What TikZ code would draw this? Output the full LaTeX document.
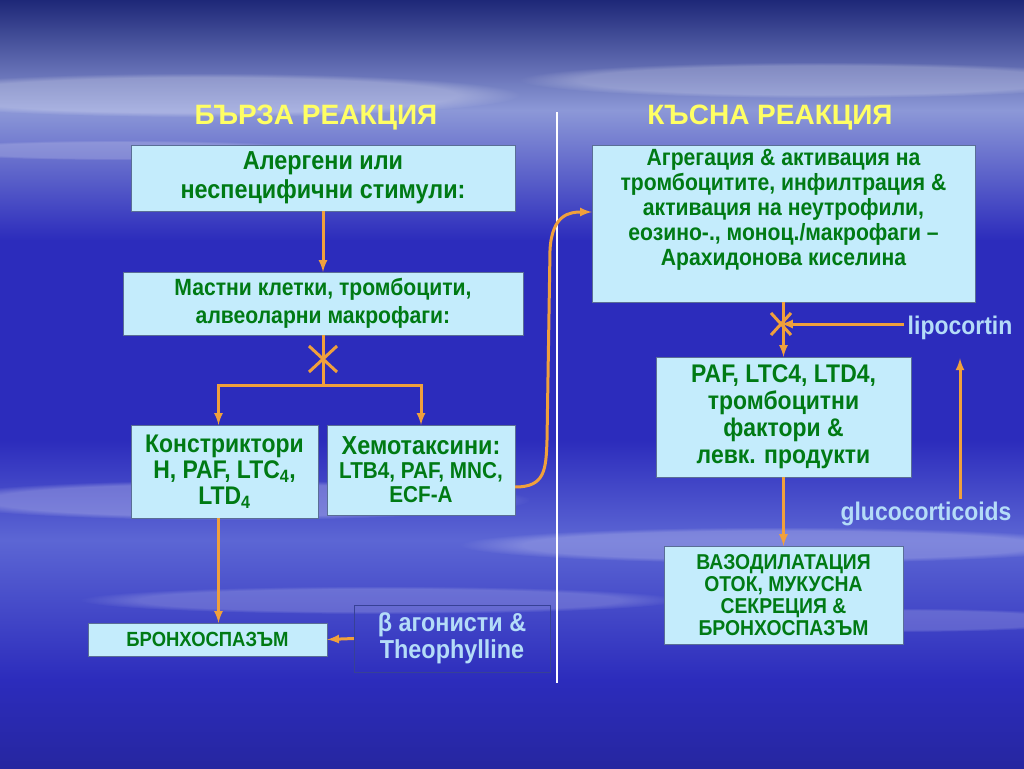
\documentclass[tikz,border=0pt]{standalone}
\usepackage{fontspec}
\setmainfont{Liberation Sans}[FakeStretch=0.9]
\newfontfamily\titlefont{Liberation Sans}
\usetikzlibrary{calc,fadings}

\definecolor{boxfill}{RGB}{196,236,252}
\definecolor{boxline}{RGB}{90,110,150}
\definecolor{txtgreen}{RGB}{0,122,20}
\definecolor{arrorange}{RGB}{240,160,60}
\definecolor{titleyellow}{RGB}{255,255,100}
\definecolor{txtlight}{RGB}{180,220,248}
\definecolor{drugline}{RGB}{55,65,150}
\definecolor{bgA}{RGB}{30,40,120}
\definecolor{bgB}{RGB}{140,152,215}
\definecolor{bgC}{RGB}{44,44,188}
\definecolor{bgD}{RGB}{92,102,212}
\definecolor{bgE}{RGB}{38,38,160}

\tikzstyle{block} = [draw=boxline,fill=boxfill,text=txtgreen,align=center,
                     font=\bfseries,inner sep=2pt]
\tikzstyle{title} = [text=titleyellow,font=\titlefont\bfseries\fontsize{28}{30}\selectfont]
\tikzstyle{drug}  = [text=txtlight,font=\bfseries\fontsize{25.5}{27}\selectfont]
\tikzstyle{arr}   = [draw=arrorange,line width=3pt,-latex]
\tikzstyle{line}  = [draw=arrorange,line width=3pt]
\tikzstyle{cloud} = [fill=white,path fading=circle with fuzzy edge 20 percent]

\begin{document}
\begin{tikzpicture}[x=1pt,y=-1pt]
  \useasboundingbox (0,0) rectangle (1024,768);
  % background
  \shade[top color=bgA,bottom color=bgB] (0,0) rectangle (1024,110);
  \shade[top color=bgB,bottom color=bgC] (0,110) rectangle (1024,240);
  \fill[bgC] (0,240) rectangle (1024,440);
  \shade[top color=bgC,bottom color=bgD] (0,440) rectangle (1024,540);
  \shade[top color=bgD,bottom color=bgC] (0,540) rectangle (1024,680);
  \shade[top color=bgC,bottom color=bgE] (0,680) rectangle (1024,768);
  \fill[cloud,opacity=0.25] (200,95) ellipse (320 and 22);
  \fill[cloud,opacity=0.22] (820,80) ellipse (300 and 18);
  \fill[cloud,opacity=0.18] (120,150) ellipse (200 and 10);
  \fill[cloud,opacity=0.25] (230,500) ellipse (300 and 20);
  \fill[cloud,opacity=0.22] (780,545) ellipse (320 and 18);
  \fill[cloud,opacity=0.18] (380,600) ellipse (300 and 14);
  \fill[cloud,opacity=0.18] (900,620) ellipse (200 and 12);

  \node[title] at (316,118) (fasttitle) {БЪРЗА РЕАКЦИЯ};
  \node[title] at (770,118) (latetitle) {КЪСНА РЕАКЦИЯ};
  \draw[white,line width=2.5pt] (557,112) -- (557,683);

  % left side
  \node[block,minimum width=384pt,minimum height=66pt,font=\bfseries\fontsize{26}{29}\selectfont]
    at (323,178) (allerg) {Алергени или\\неспецифични стимули:};
  \node[block,minimum width=400pt,minimum height=63pt,font=\bfseries\fontsize{23.5}{28}\selectfont]
    at (323,303.5) (mast) {Мастни клетки, тромбоцити,\\алвеоларни макрофаги:};
  \node[block,minimum width=187pt,minimum height=93pt,font=\bfseries\fontsize{25.5}{26}\selectfont]
    at (224.5,471.5) (constr) {Констриктори\\H, PAF, LTC\textsubscript{4},\\LTD\textsubscript{4}};
  \node[block,minimum width=188pt,minimum height=90pt,font=\bfseries\fontsize{23}{24}\selectfont]
    at (421,470) (chemo) {{\fontsize{26}{26}\selectfont Хемотаксини:}\\LTB4, PAF, MNC,\\ECF-A};
  \node[block,minimum width=239pt,minimum height=33pt,font=\bfseries\fontsize{20.5}{22}\selectfont]
    at (207.5,639.5) (bronch) {БРОНХОСПАЗЪМ};
  \node[drug,draw=drugline,minimum width=196pt,minimum height=67pt,align=center,
    font=\bfseries\fontsize{26}{27}\selectfont] at (452,638.5) (agon) {β агонисти \&\\Theophylline};

  \coordinate (blockL) at (323,359);
  \coordinate (split) at (323,385);
  \draw[arr] (allerg.south) -- (mast.north);
  \draw[line] (mast.south) -- (split);
  \draw[line] ($(blockL)+(-14,-13)$) -- ($(blockL)+(14,13)$);
  \draw[line] ($(blockL)+(-14,13)$) -- ($(blockL)+(14,-13)$);
  \draw[arr] (split) -| ([xshift=-6pt]constr.north);
  \draw[arr] (split) -| (chemo.north);
  \draw[arr] ([xshift=-6pt]constr.south) -- ([xshift=-6pt]constr.south |- bronch.north);
  \draw[arr] (agon.west) -- (bronch.east);

  % right side
  \node[block,minimum width=383pt,minimum height=157pt] at (783.5,223.5) (agg) {};
  \node[text=txtgreen,align=center,anchor=north,inner sep=0pt,
    font=\bfseries\fontsize{23.5}{25}\selectfont] at ([yshift=-4pt]agg.north) (aggtext)
    {Агрегация \& активация на\\тромбоцитите, инфилтрация \&\\активация на неутрофили,\\еозино-., моноц./макрофаги –\\Арахидонова киселина};
  \node[block,minimum width=255pt,minimum height=120pt,font=\bfseries\fontsize{25.5}{27}\selectfont]
    at (783.5,417) (paf) {PAF, LTC4, LTD4,\\тромбоцитни\\фактори \&\\левк. продукти};
  \node[block,minimum width=239pt,minimum height=98pt,font=\bfseries\fontsize{21.5}{22}\selectfont]
    at (783.5,595) (vaso) {ВАЗОДИЛАТАЦИЯ\\ОТОК, МУКУСНА\\СЕКРЕЦИЯ \&\\БРОНХОСПАЗЪМ};
  \node[drug] at (960,328) (lipo) {lipocortin};
  \node[drug] at (926,514) (gluco) {glucocorticoids};

  \coordinate (blockR) at (781,324);
  \draw[arr] (agg.south) -- (paf.north);
  \draw[line] ($(blockR)+(-10,-11)$) -- ($(blockR)+(10,11)$);
  \draw[line] ($(blockR)+(-10,11)$) -- ($(blockR)+(10,-11)$);
  \draw[arr] (blockR -| lipo.west) -- (blockR);
  \draw[arr] (gluco.north -| lipo.south) -- ([yshift=-15pt]lipo.south);
  \draw[arr] (paf.south) -- (vaso.north);

  % curved link between both sides
  \draw[arr] ([yshift=-17pt]chemo.east) .. controls (545,487) and (546,470) .. (547,440)
    -- (550,250) .. controls (552,214) and (570,212) .. ([yshift=11.5pt]agg.west);
\end{tikzpicture}
\end{document}
